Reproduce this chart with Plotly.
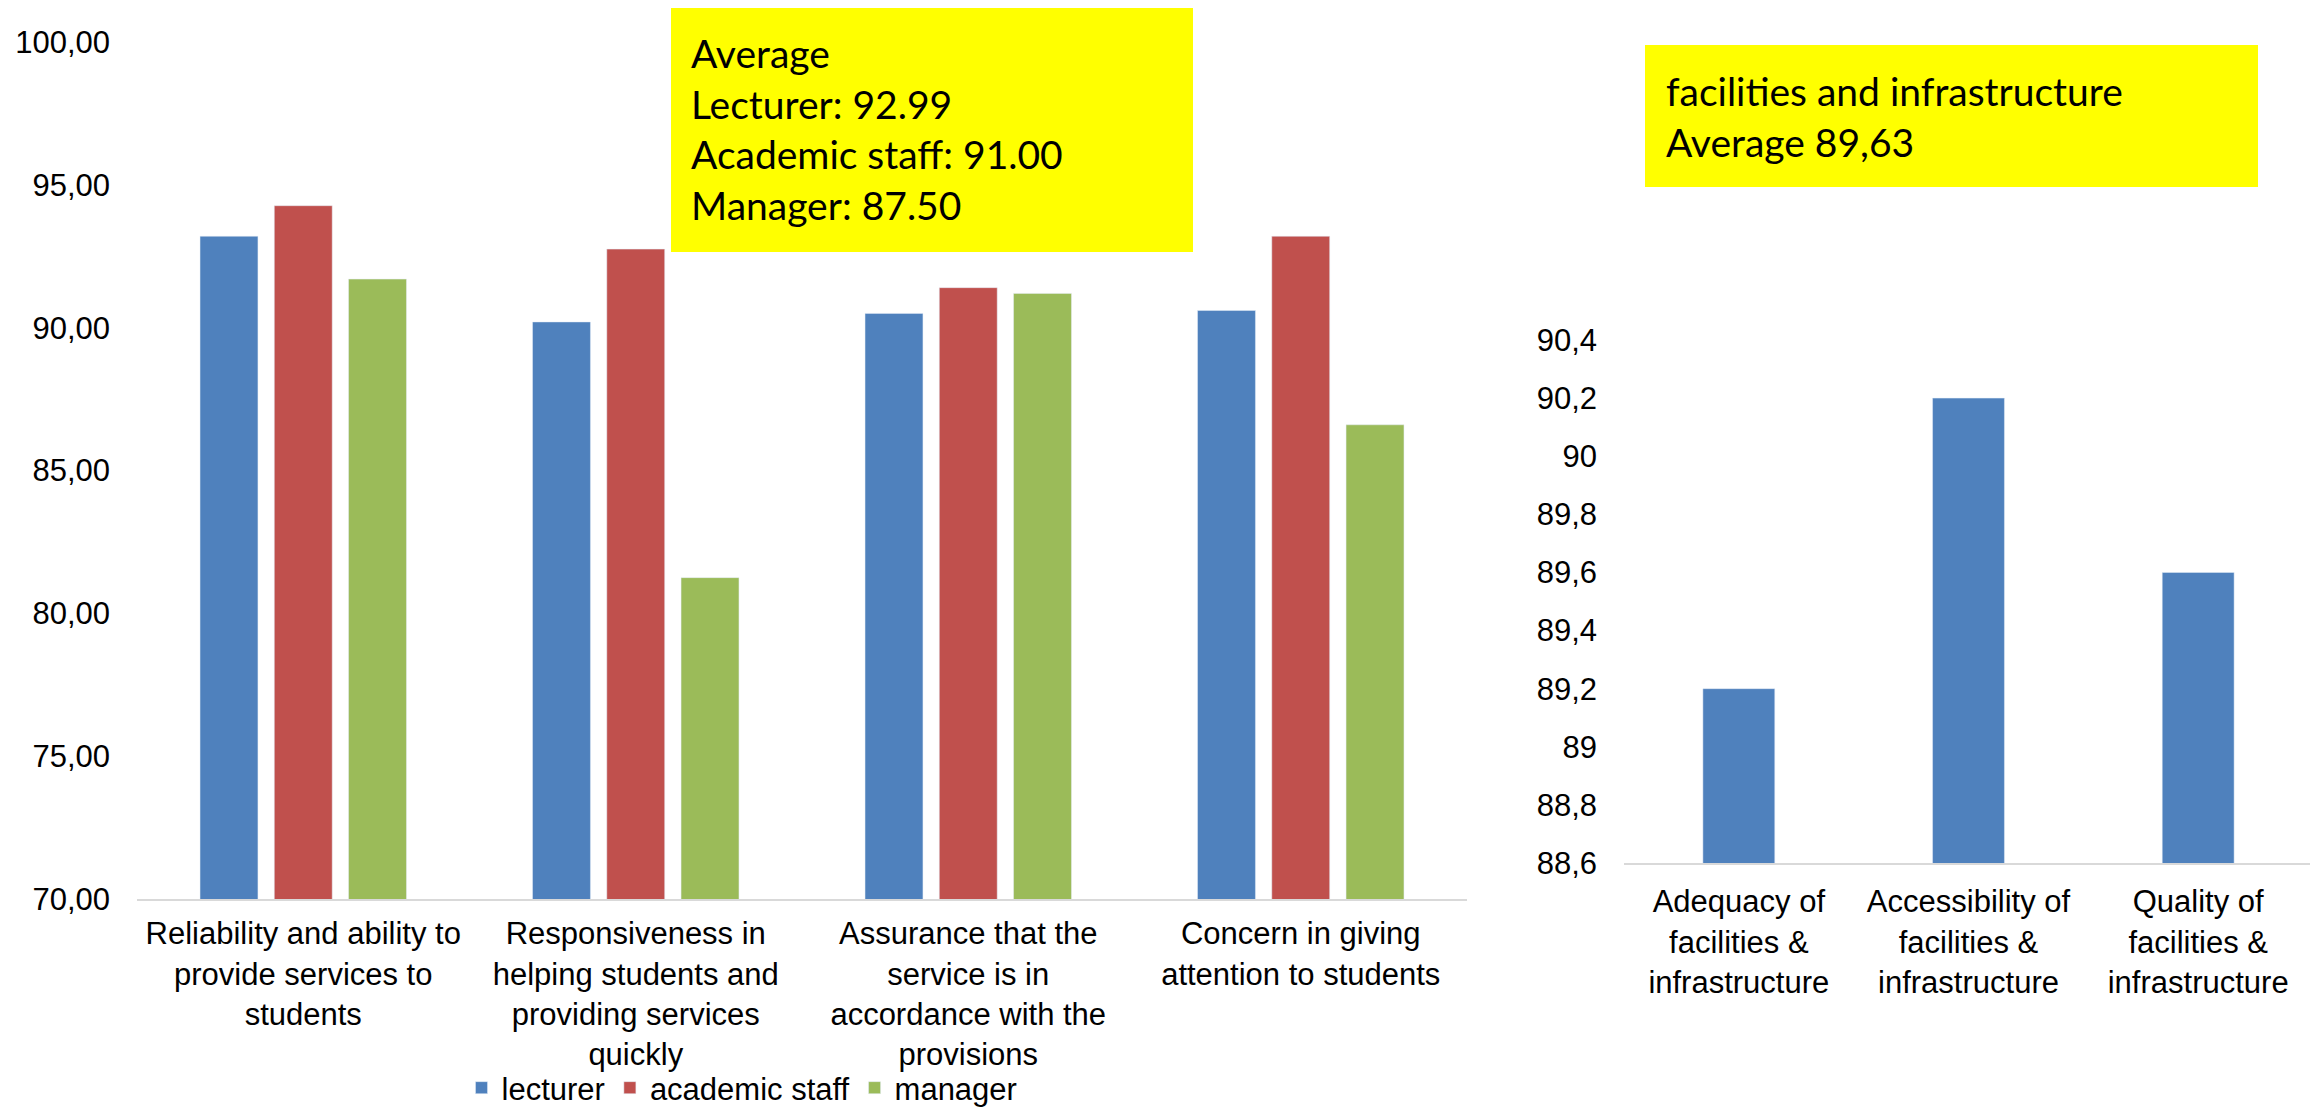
import plotly.graph_objects as go

# service quality dimensions (left chart)
services = [
    "Reliability and ability to<br>provide services to<br>students",
    "Responsiveness in<br>helping students and<br>providing services<br>quickly",
    "Assurance that the<br>service is in<br>accordance with the<br>provisions",
    "Concern in giving<br>attention to students",
]
lecturer = [93.2, 90.2, 90.5, 90.6]
academic_staff = [94.27, 92.75, 91.4, 93.2]
manager = [91.7, 81.25, 91.2, 86.6]

# facilities & infrastructure (right chart)
facilities = [
    "Adequacy of<br>facilities &<br>infrastructure",
    "Accessibility of<br>facilities &<br>infrastructure",
    "Quality of<br>facilities &<br>infrastructure",
]
facility_scores = [89.2, 90.2, 89.6]

avg_text = "Average<br>Lecturer: 92.99<br>Academic staff: 91.00<br>Manager: 87.50"
fac_text = "facilities and infrastructure<br>Average 89,63"

BLUE, RED, GREEN = "#4F81BD", "#C0504D", "#9BBB59"
W, H = 2318, 1111
OFF = 8  # page body margin the figure sits inside


def px(x):
    return (x - OFF) / W


def py(y):
    return 1 - (y - OFF) / H


font = "Liberation Sans, Arial, sans-serif"

fig = go.Figure()
fig.add_trace(go.Bar(x=services, y=lecturer, name="lecturer", marker_color=BLUE,
                     xaxis="x", yaxis="y"))
fig.add_trace(go.Bar(x=services, y=academic_staff, name="academic staff", marker_color=RED,
                     xaxis="x", yaxis="y"))
fig.add_trace(go.Bar(x=services, y=manager, name="manager", marker_color=GREEN,
                     xaxis="x", yaxis="y"))
fig.add_trace(go.Bar(x=facilities, y=facility_scores, name="facilities", marker_color=BLUE,
                     width=0.313, showlegend=False, xaxis="x2", yaxis="y2"))

axis_font = dict(family=font, size=31, color="#000000")
box_font = dict(family="Lato, sans-serif", size=39, color="#000000")
fig.update_layout(
    width=W, height=H,
    margin=dict(l=0, r=0, t=0, b=0, autoexpand=False),
    paper_bgcolor="white", plot_bgcolor="white",
    separators=",.",
    barmode="group", bargap=0.33, bargroupgap=0.22,
    font=axis_font,
    xaxis=dict(domain=[px(137), px(1467)], anchor="y", showgrid=False,
               showline=True, linecolor="#D9D9D9", linewidth=2, automargin=False,
               tickfont=axis_font, ticklabelstandoff=6),
    yaxis=dict(domain=[py(899), py(42)], anchor="x", range=[70, 100],
               dtick=5, tickformat=".2f", showgrid=False, zeroline=False,
               showline=False, automargin=False, tickfont=axis_font,
               ticklabelstandoff=26),
    xaxis2=dict(domain=[px(1624), px(2313)], anchor="y2", showgrid=False,
                showline=True, linecolor="#D9D9D9", linewidth=2, automargin=False,
                tickfont=axis_font, ticklabelstandoff=10),
    yaxis2=dict(domain=[py(863), py(340)], anchor="x2", range=[88.6, 90.4],
                tick0=88.6, dtick=0.2, tickformat=".1~f", showgrid=False,
                zeroline=False, showline=False, automargin=False,
                tickfont=axis_font, ticklabelstandoff=26),
    legend=dict(orientation="h", x=px(742), xanchor="center",
                yref="container", y=py(1088), yanchor="middle",
                font=axis_font, bgcolor="rgba(0,0,0,0)", tracegroupgap=0),
    shapes=[
        dict(type="rect", xref="paper", yref="paper",
             x0=px(671), x1=px(1193), y0=py(252), y1=py(6),
             fillcolor="#FFFF00", line_width=0, layer="above"),
        dict(type="rect", xref="paper", yref="paper",
             x0=px(1645), x1=px(2258), y0=py(187), y1=py(45),
             fillcolor="#FFFF00", line_width=0, layer="above"),
    ],
    annotations=[
        dict(text=avg_text, xref="paper", yref="paper", x=px(689), y=py(129),
             xanchor="left", yanchor="middle", align="left", showarrow=False,
             font=box_font),
        dict(text=fac_text, xref="paper", yref="paper", x=px(1664), y=py(117),
             xanchor="left", yanchor="middle", align="left", showarrow=False,
             font=box_font),
    ],
)

fig.write_html("out.html")
